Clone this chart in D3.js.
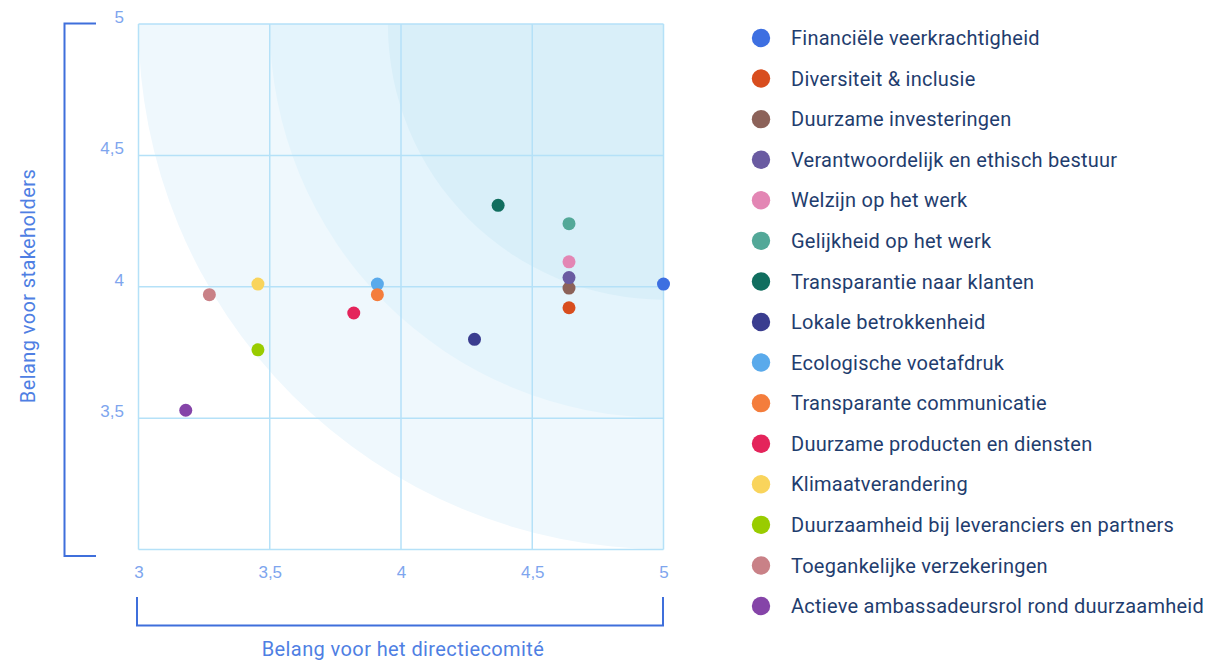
<!DOCTYPE html>
<html><head><meta charset="utf-8">
<script src="https://cdn.jsdelivr.net/npm/d3@7/dist/d3.min.js"></script>
<style>html,body{margin:0;padding:0;background:#fff;}svg{display:block;font-family:Roboto,"Noto Sans",sans-serif;}</style>
</head><body>
<svg id="chart" width="1225" height="663"></svg>
<script>
const categories = ["Financiële veerkrachtigheid","Diversiteit & inclusie","Duurzame investeringen","Verantwoordelijk en ethisch bestuur","Welzijn op het werk","Gelijkheid op het werk","Transparantie naar klanten","Lokale betrokkenheid","Ecologische voetafdruk","Transparante communicatie","Duurzame producten en diensten","Klimaatverandering","Duurzaamheid bij leveranciers en partners","Toegankelijke verzekeringen","Actieve ambassadeursrol rond duurzaamheid"];
const directieValues = [5.0,4.64,4.64,4.64,4.64,4.64,4.37,4.28,3.91,3.91,3.82,3.455,3.455,3.27,3.18];
const stakeholderValues = [4.01,3.92,3.995,4.035,4.095,4.24,4.31,3.80,4.01,3.97,3.90,4.01,3.76,3.97,3.53];
const colors = ["#3d6fe1","#d84d1e","#8c6259","#6a5ba1","#e386b4","#53a898","#116e5f","#3a3d8f","#5aaaeb","#f47d3c","#e4245b","#f9d45c","#99cc00","#c98187","#8544a8"];
const xTicks = [3,3.5,4,4.5,5];
const yTicks = [3.5,4,4.5,5];
const bands = [2,1.5,1.05];
const bandColors = ["#eff8fd","#e4f4fc","#d9eff9"];

const svg = d3.select("#chart");
const x = d3.scaleLinear().domain([3,5]).range([138.5,663.5]);
const y = d3.scaleLinear().domain([3,5]).range([549.5,24]);
const fmt = d => String(d).replace(".", ",");

svg.append("clipPath").attr("id","plotclip").append("rect")
  .attr("x",x(3)).attr("y",y(5)).attr("width",x(5)-x(3)).attr("height",y(3)-y(5));
const bg = svg.append("g").attr("clip-path","url(#plotclip)");
bands.forEach((r,i)=>{
  bg.append("circle").attr("cx",x(5)).attr("cy",y(5)).attr("r",x(3+r)-x(3)).attr("fill",bandColors[i]);
});

const gridColor = "#b5e1f8";
const g = svg.append("g");
g.selectAll("line.v").data(xTicks).join("line")
  .attr("x1",d=>x(d)).attr("x2",d=>x(d)).attr("y1",y(3)).attr("y2",y(5))
  .attr("stroke",gridColor).attr("stroke-width",1.5);
g.selectAll("line.h").data([3].concat(yTicks)).join("line")
  .attr("y1",d=>y(d)).attr("y2",d=>y(d)).attr("x1",x(3)).attr("x2",x(5))
  .attr("stroke",gridColor).attr("stroke-width",1.5);

const xAxis = d3.axisBottom(x).tickValues(xTicks).tickFormat(fmt).tickSize(0).tickPadding(0);
const xa = svg.append("g").attr("transform",`translate(0,${y(3)+28})`).call(xAxis);
xa.select(".domain").remove();
xa.selectAll("text").attr("fill","#7ea5ee").attr("font-size",17).attr("dy","0");
const yAxis = d3.axisLeft(y).tickValues(yTicks).tickFormat(fmt).tickSize(0).tickPadding(0);
const ya = svg.append("g").attr("transform",`translate(124,0)`).call(yAxis);
ya.select(".domain").remove();
ya.selectAll("text").attr("fill","#7ea5ee").attr("font-size",17).attr("dy","-0.1em");

const bc = "#3f6fdb";
svg.append("path").attr("d",`M96,23.5H64.5V556H96`).attr("fill","none").attr("stroke",bc).attr("stroke-width",2);
svg.append("path").attr("d",`M137,597V625.5H663V597`).attr("fill","none").attr("stroke",bc).attr("stroke-width",2);

svg.append("text").attr("transform","translate(35,286) rotate(-90)").attr("text-anchor","middle")
  .attr("fill","#4f7fe3").attr("font-size",20).attr("letter-spacing",0.4).text("Belang voor stakeholders");
svg.append("text").attr("x",403).attr("y",656).attr("text-anchor","middle")
  .attr("fill","#4f7fe3").attr("font-size",20).attr("letter-spacing",0.4).text("Belang voor het directiecomité");

const data = categories.map((c,i)=>({c, xv:directieValues[i], yv:stakeholderValues[i], col:colors[i]}));
svg.append("g").selectAll("circle").data(data).join("circle")
  .attr("cx",d=>x(d.xv)).attr("cy",d=>y(d.yv)).attr("r",6.5).attr("fill",d=>d.col);

const lg = svg.append("g");
const rowY = d3.scaleLinear().domain([0,14]).range([38,606]);
const items = lg.selectAll("g").data(data).join("g").attr("transform",(d,i)=>`translate(0,${rowY(i)})`);
items.append("circle").attr("cx",761).attr("cy",0).attr("r",9.2).attr("fill",d=>d.col);
items.append("text").attr("x",791).attr("y",0).attr("dy","0.36em").attr("font-size",20).attr("letter-spacing",0.25)
  .attr("fill","#1f3d6e").text(d=>d.c);
</script>
</body></html>
